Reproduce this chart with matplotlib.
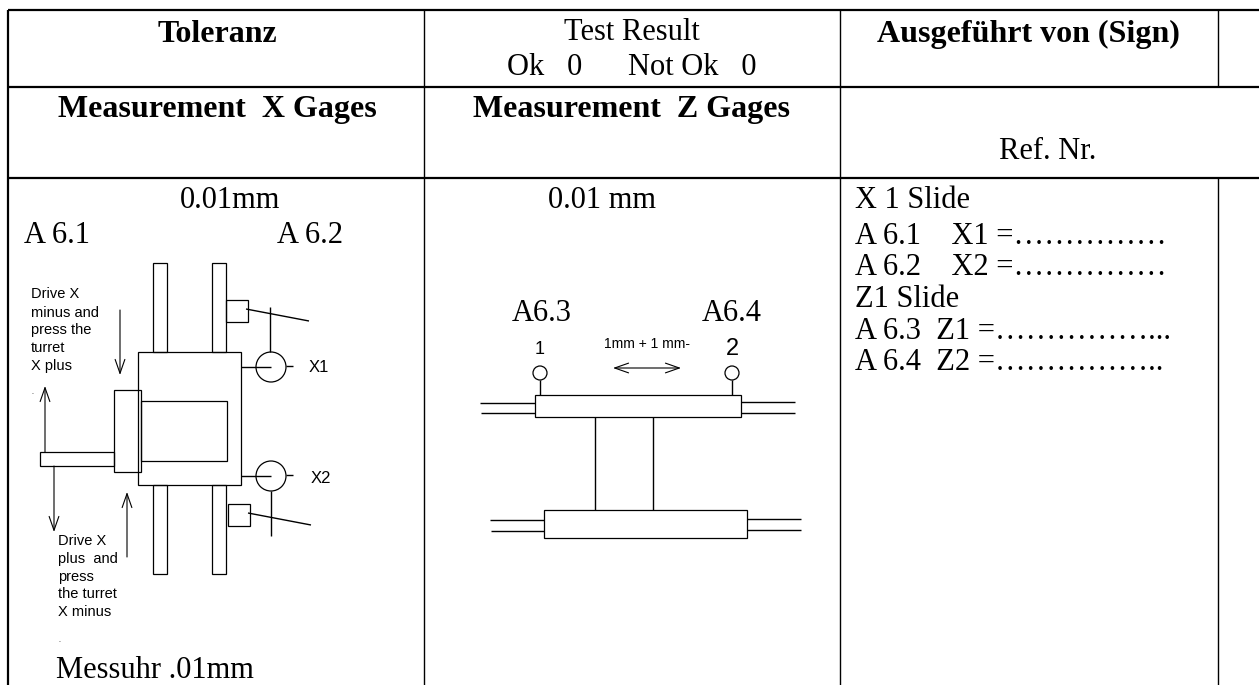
import matplotlib.pyplot as plt
from matplotlib.patches import Rectangle, Circle

SERIF = 'Liberation Serif'
SANS = 'Liberation Sans'

# table text
header_bold = [('Toleranz', 217, 34), ('Ausgeführt von (Sign)', 1028, 34),
               ('Measurement  X Gages', 217, 109), ('Measurement  Z Gages', 632, 109)]
header_plain = [('Test Result', 632, 32), ('Ok   0      Not Ok   0', 632, 67), ('Ref. Nr.', 1048, 151),
                ('0.01mm', 230, 200), ('0.01 mm', 602, 200)]
left_text = [('A 6.1', 24, 235), ('A 6.2', 277, 235), ('A6.3', 512, 313), ('A6.4', 702, 313),
             ('X 1 Slide', 855, 200), ('A 6.1    X1 =……………', 855, 236), ('A 6.2    X2 =……………', 855, 267),
             ('Z1 Slide', 855, 299), ('A 6.3  Z1 =……………...', 855, 331), ('A 6.4  Z2 =……………..', 855, 362)]
drive_minus = ['Drive X', 'minus and', 'press the', 'turret', 'X plus']
drive_minus_y = [294, 313, 330, 348, 366]
drive_plus = ['Drive X', 'plus  and', 'press', 'the turret', 'X minus']
drive_plus_y = [541, 559, 577, 594, 612]

# table lines
h_rules = [(0, 10), (1, 87), (2, 178)]
v_rules = [(8, 10, 685), (424, 10, 685), (840, 10, 685), (1218, 10, 87), (1218, 178, 685)]

# left drawing (x0, y0, x1, y1)
left_rects = [(153, 263, 167, 352), (212, 263, 226, 352), (153, 485, 167, 574), (212, 485, 226, 574),
              (138, 352, 241, 485), (141, 401, 227, 461), (114, 390, 141, 472), (40, 452, 114, 466),
              (226, 300, 248, 322), (228, 504, 250, 526)]
left_lines = [(246, 309, 309, 321), (270, 307, 270, 352), (241, 367, 271, 367), (286, 366, 293, 366),
              (241, 476, 271, 476), (286, 475, 293, 475), (271, 491, 271, 536), (248, 513, 311, 525)]
left_circles = [(271, 367, 15), (271, 476, 15)]
left_arrows = [(120, 310, 120, 375), (45, 452, 45, 386), (54, 466, 54, 532), (127, 557, 127, 492)]

# right drawing
right_rects = [(535, 395, 741, 417), (544, 510, 747, 538)]
right_lines = [(480, 403, 535, 403), (481, 413, 535, 413), (741, 402, 795, 402), (741, 413, 795, 413),
               (490, 520, 544, 520), (491, 531, 544, 531), (747, 519, 801, 519), (747, 530, 801, 530),
               (540, 380, 540, 395), (732, 380, 732, 395)]
web_lines = [(595, 417, 595, 510), (653, 417, 653, 510)]
right_circles = [(540, 373, 7), (732, 373, 7)]

fig = plt.figure(figsize=(12.59, 6.85), dpi=100)
ax = fig.add_axes([0, 0, 1, 1])
ax.set_xlim(0, 1259)
ax.set_ylim(685, 0)
ax.axis('off')


def draw_line(x0, y0, x1, y1, lw=1.0):
    ax.plot([x0, x1], [y0, y1], color='black', lw=lw, solid_capstyle='butt')


def draw_rect(x0, y0, x1, y1, fill=False):
    ax.add_patch(Rectangle((x0, y0), x1 - x0, y1 - y0, fill=fill, fc='white', ec='black', lw=0.9))


# 表格线
for _, y in h_rules:
    draw_line(8, y, 1259, y, lw=1.6)
for x, y0, y1 in v_rules:
    draw_line(x, y0, x, y1, lw=1.6 if x == 8 else 1.0)

# 表格文字
for s, x, y in header_bold:
    ax.text(x, y, s, family=SERIF, fontsize=23, fontweight='bold', ha='center', va='center')
for s, x, y in header_plain:
    ax.text(x, y, s, family=SERIF, fontsize=22, ha='center', va='center')
for s, x, y in left_text:
    ax.text(x, y, s, family=SERIF, fontsize=22, ha='left', va='center')
ax.text(56, 678, 'Messuhr .01mm', family=SERIF, fontsize=22, ha='left', va='baseline')

# 左图
for r in left_rects:
    draw_rect(*r)
for l in left_lines:
    draw_line(*l)
for cx, cy, r in left_circles:
    ax.add_patch(Circle((cx, cy), r, fill=False, ec='black', lw=0.9))
for x0, y0, x1, y1 in left_arrows:
    ax.annotate('', xy=(x1, y1), xytext=(x0, y0),
                arrowprops=dict(arrowstyle='->,head_length=1.0,head_width=0.35', lw=0.8, color='black',
                                shrinkA=0, shrinkB=0))
for s, y in zip(drive_minus, drive_minus_y):
    ax.text(31, y, s, family=SANS, fontsize=10.5, ha='left', va='center')
for s, y in zip(drive_plus, drive_plus_y):
    ax.text(58, y, s, family=SANS, fontsize=10.5, ha='left', va='center')
ax.text(309, 367, 'X1', family=SANS, fontsize=12, ha='left', va='center')
ax.text(311, 478, 'X2', family=SANS, fontsize=12, ha='left', va='center')
ax.text(31, 394, '.', family=SANS, fontsize=5)
ax.text(58, 642, '.', family=SANS, fontsize=5)

# 右图
for r in right_rects:
    draw_rect(*r)
for l in right_lines + web_lines:
    draw_line(*l)
for cx, cy, r in right_circles:
    ax.add_patch(Circle((cx, cy), r, fill=False, ec='black', lw=0.9))
ax.annotate('', xy=(681, 368), xytext=(613, 368),
            arrowprops=dict(arrowstyle='<->,head_length=1.0,head_width=0.35', lw=0.8, color='black',
                            shrinkA=0, shrinkB=0))
ax.text(540, 349, '1', family=SANS, fontsize=13, ha='center', va='center')
ax.text(732, 349, '2', family=SANS, fontsize=17, ha='center', va='center')
ax.text(647, 344, '1mm + 1 mm-', family=SANS, fontsize=10, ha='center', va='center')

plt.savefig('out.png', dpi=100)
